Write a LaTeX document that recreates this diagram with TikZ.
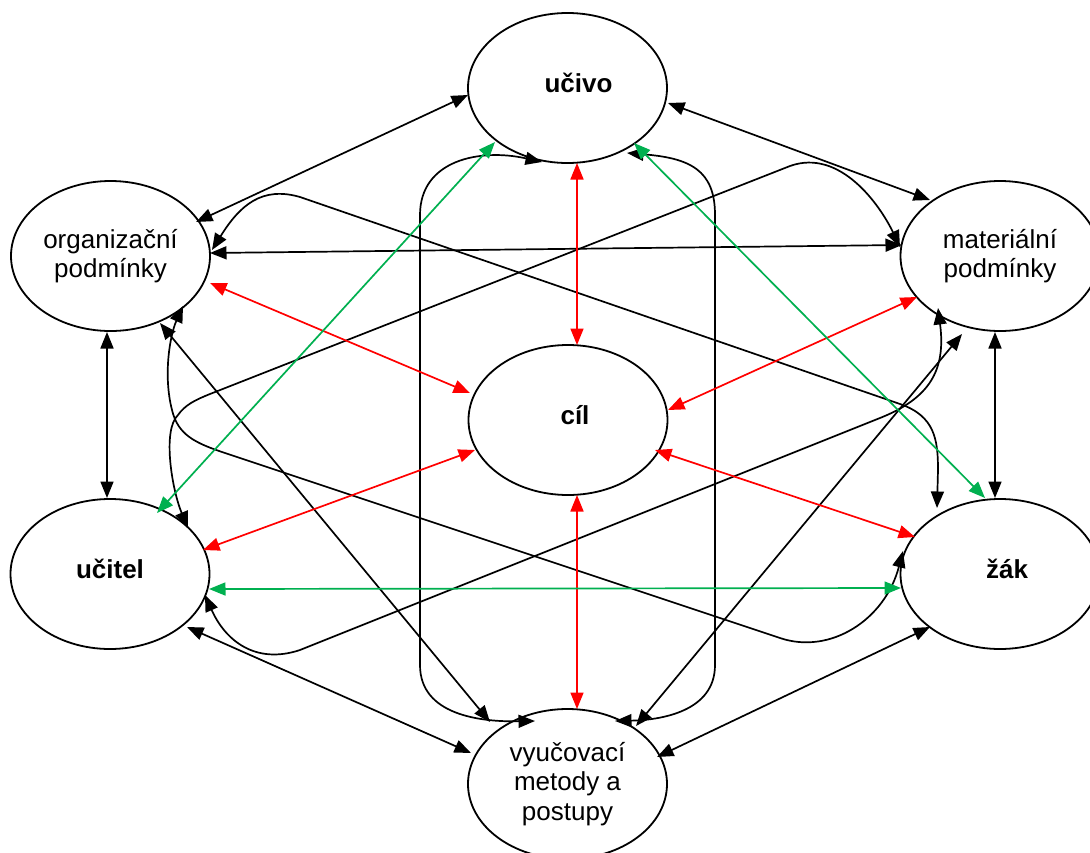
\documentclass[tikz,border=0pt]{standalone}
\usepackage{fontspec}
\setmainfont{Liberation Sans}
\usetikzlibrary{arrows.meta,calc,shapes.geometric}
\definecolor{wgreen}{RGB}{0,176,80}
\definecolor{wred}{RGB}{255,0,0}
\begin{document}
\begin{tikzpicture}[x=1pt,y=-1pt,
  ell/.style={draw, ellipse, fill=white, line width=1.8pt, minimum width=199pt,
    minimum height=150pt, inner sep=0pt, align=center,
    font=\fontsize{26}{29.5}\selectfont},
  bt/.style={font=\fontsize{26}{29.5}\selectfont\bfseries, text height=14pt, text depth=6pt},
  con/.style={line width=1.7pt, {Triangle[length=16.5pt,width=13pt]}-{Triangle[length=16.5pt,width=13pt]}},
  ]
\useasboundingbox (0,0) rectangle (1090,852);
\clip (0,0) rectangle (1090,852);
\fill[white] (0,0) rectangle (1090,852);

% nodes
\node[ell,bt] (U) at (567.5,88) {\hspace*{22pt}učivo};
\node[ell] (O) at (110.5,256) {organizační\\podmínky};
\node[ell] (M) at (1000,256) {materiální\\podmínky};
\node[ell,bt] (C) at (568,420) {\hspace*{14pt}cíl};
\node[ell,bt] (T) at (110,574) {učitel};
\node[ell,bt] (Z) at (1000,574) {\hspace*{14pt}žák};
\node[ell] (V) at (567.5,784) {vyučovací\\metody a\\postupy};

% black straight connectors
\draw[con] ($(U)+(-99.5,7)$) -- ($(O)+(85.5,-34)$);
\draw[con] ($(U)+(100.5,15)$) -- ($(M)+(-70,-56)$);
\draw[con] ($(O)+(-3.5,76)$) -- ($(T)+(-3,-76)$);
\draw[con] ($(M)+(-5,76)$) -- ($(Z)+(-5,-76)$);
\draw[con] ($(T)+(77,53)$) -- ($(V)+(-96.5,-31)$);
\draw[con] ($(Z)+(-70,53)$) -- ($(V)+(89.5,-27)$);
\draw[con] ($(O)+(99.5,-3)$) -- ($(M)+(-98,-11)$);
\draw[con] ($(O)+(49.5,67)$) -- ($(V)+(-77.5,-62)$);
\draw[con] ($(M)+(-38,78)$) -- ($(V)+(68.5,-58)$);

% black curved connectors
\draw[con] ($(U)+(-25.5,74)$) .. controls (480,148) and (420,160) .. (420,215)
  -- (420,665) .. controls (420,715) and (480,722) .. ($(V)+(-32.5,-63)$);
\draw[con] ($(U)+(59.5,65)$) .. controls (690,158) and (715,170) .. (715,215)
  -- (715,665) .. controls (715,712) and (660,720) .. ($(V)+(47.5,-63)$);
\draw[con] ($(O)+(101.5,-6)$) .. controls (240,205) and (262,186) .. (300,197)
  -- (900,404) .. controls (935,416) and (938,440) .. (938,470) -- ($(Z)+(-63,-66)$);
\draw[con] ($(O)+(72.5,50)$) .. controls (170,335) and (163,375) .. (172,410)
  .. controls (178,435) and (195,443) .. (225,453)
  -- (780,638) .. controls (830,655) and (885,620) .. ($(Z)+(-97,-23)$);
\draw[con] ($(T)+(78,-46)$) .. controls (172,490) and (162,430) .. (178,415)
  .. controls (185,405) and (195,400) .. (210,394)
  -- (790,166) .. controls (840,148) and (880,205) .. ($(M)+(-100,-9)$);
\draw[con] ($(T)+(95,21)$) .. controls (225,640) and (255,665) .. (300,650)
  -- (880,418) .. controls (930,398) and (946,370) .. ($(M)+(-62,52)$);

% red connectors
\draw[con,wred] ($(C)+(9,-75)$) -- ($(U)+(9.5,75)$);
\draw[con,wred] ($(C)+(9,75)$) -- ($(V)+(9.5,-75)$);
\draw[con,wred] ($(C)+(-98,-27)$) -- ($(O)+(99.5,27)$);
\draw[con,wred] ($(C)+(100,-10)$) -- ($(M)+(-83,41)$);
\draw[con,wred] ($(C)+(-93,30)$) -- ($(T)+(93,-24)$);
\draw[con,wred] ($(C)+(87,30)$) -- ($(Z)+(-85,-37)$);

% green connectors
\draw[con,wgreen] ($(U)+(-72.5,54)$) -- ($(T)+(47,-61)$);
\draw[con,wgreen] ($(U)+(66.5,55)$) -- ($(Z)+(-15,-76)$);
\draw[con,wgreen] ($(T)+(99,15)$) -- ($(Z)+(-99,14)$);
\end{tikzpicture}
\end{document}
